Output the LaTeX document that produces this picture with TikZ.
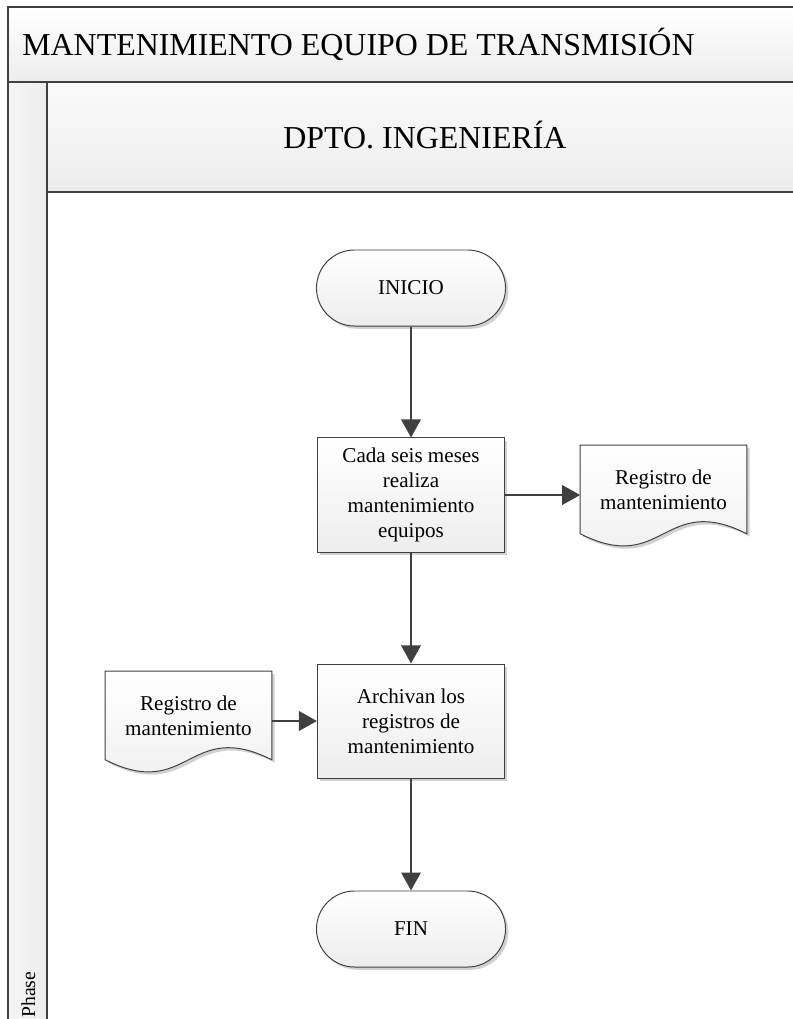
\documentclass[tikz,border=0pt]{standalone}
\usepackage{fontspec}
\setmainfont{Liberation Serif}
\usepackage{xcolor}
\usepackage{tikz}
\usetikzlibrary{arrows.meta,shadows}
\definecolor{linegray}{HTML}{404040}
\definecolor{bandgray}{HTML}{EDEDED}
\tikzset{
    frame/.style={draw=linegray,line width=1.4pt},
    box/.style={draw=linegray,line width=0.7pt,top color=white,bottom color=bandgray,
        drop shadow={shadow xshift=0.07cm,shadow yshift=-0.07cm,fill=black!18,opacity=1},
        font=\fontsize{15}{17.8}\selectfont,align=center},
    proc/.style={box,minimum width=4.675cm,minimum height=2.85cm},
    term/.style={box,rounded corners=0.95cm,minimum width=4.725cm,minimum height=1.9cm},
    doctext/.style={font=\fontsize{15}{17.8}\selectfont,align=center,
        minimum width=4.15cm,minimum height=2.2cm,inner sep=0pt},
    docshape/.style={box},
    flow/.style={draw=linegray,line width=2.1pt,-{Triangle[length=0.45cm,width=0.48cm]}}
}

\begin{document}
\begin{tikzpicture}[x=0.025cm,y=-0.025cm]
    \useasboundingbox (0,0) rectangle (793,1019);
    \fill[white] (0,0) rectangle (793,1019);

    \draw[frame,top color=white,bottom color=bandgray] (8,7) rectangle (803,82);
    \draw[frame,left color=white!96!black,right color=bandgray] (8,82) rectangle (47,1030);
    \draw[frame,top color=white!98!black,bottom color=bandgray] (47,82) rectangle (803,192);
    \draw[frame] (47,192) rectangle (803,1030);

    \node[anchor=base west,inner sep=0pt,font=\fontsize{22.7}{27}\selectfont] (title) at (22,55)
        {MANTENIMIENTO EQUIPO DE TRANSMISIÓN};
    \node[anchor=base,inner sep=0pt,font=\fontsize{22.7}{27}\selectfont] (lane) at (425,148)
        {DPTO. INGENIERÍA};
    \node[anchor=base west,rotate=90,inner sep=0pt,font=\fontsize{14}{17}\selectfont] (phase) at (35,1018)
        {Phase};

    \node[term] (inicio) at (411,288) {INICIO};
    \node[proc] (mant) at (411,495) {Cada seis meses\\realiza\\mantenimiento\\equipos};
    \node[proc] (archiva) at (411,721) {Archivan los\\registros de\\mantenimiento};
    \node[term] (fin) at (411,929) {FIN};

    \node[doctext] (regA) at (663.5,489.5) {};
    \draw[docshape] (regA.north west) -- (regA.north east) -- (regA.south east)
        .. controls ([yshift=1.05cm]regA.south) and ([yshift=-1.05cm]regA.south) .. (regA.south west) -- cycle;
    \node[doctext] at (regA) {Registro de\\mantenimiento};

    \node[doctext] (regB) at (188.5,715.5) {};
    \draw[docshape] (regB.north west) -- (regB.north east) -- (regB.south east)
        .. controls ([yshift=1.05cm]regB.south) and ([yshift=-1.05cm]regB.south) .. (regB.south west) -- cycle;
    \node[doctext] at (regB) {Registro de\\mantenimiento};

    \draw[flow] (inicio) -- (mant);
    \draw[flow] (mant.east |- mant) -- (regA.west |- mant);
    \draw[flow] (mant) -- (archiva);
    \draw[flow] (regB.east |- archiva) -- (archiva.west);
    \draw[flow] (archiva) -- (fin);
\end{tikzpicture}
\end{document}
